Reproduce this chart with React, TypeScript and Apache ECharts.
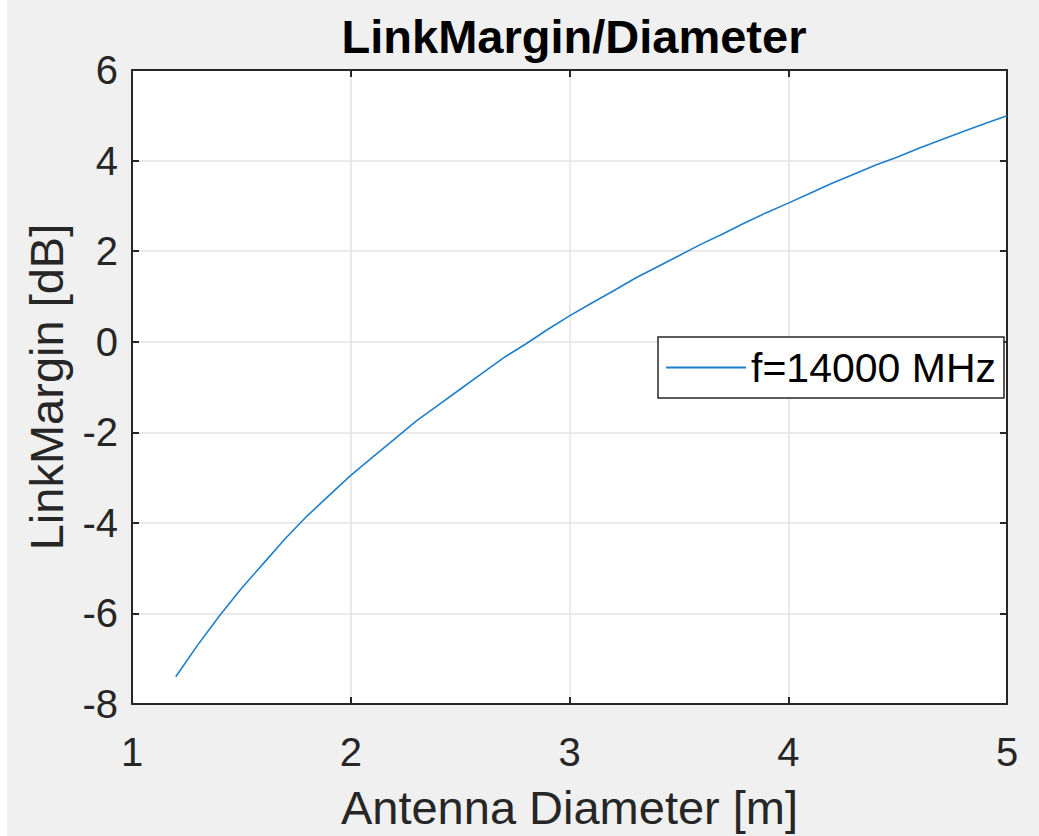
import React, { useEffect, useRef } from "react";
import * as echarts from "echarts";

const diameters = [
  1.2, 1.3, 1.4, 1.5, 1.6, 1.7, 1.8, 1.9, 2.0, 2.1, 2.2, 2.3, 2.4, 2.5, 2.6, 2.7, 2.8, 2.9, 3.0,
  3.1, 3.2, 3.3, 3.4, 3.5, 3.6, 3.7, 3.8, 3.9, 4.0, 4.1, 4.2, 4.3, 4.4, 4.5, 4.6, 4.7, 4.8, 4.9, 5.0,
];
const linkMargin = [
  -7.4, -6.7, -6.05, -5.45, -4.9, -4.35, -3.85, -3.4, -2.95, -2.55, -2.15, -1.75, -1.4, -1.05,
  -0.7, -0.35, -0.05, 0.27, 0.57, 0.85, 1.12, 1.4, 1.65, 1.9, 2.15, 2.38, 2.62, 2.85, 3.06, 3.28,
  3.5, 3.7, 3.9, 4.08, 4.28, 4.46, 4.64, 4.82, 4.99,
];
const seriesName = "f=14000 MHz";
const titleText = "LinkMargin/Diameter";
const xName = "Antenna Diameter [m]";
const yName = "LinkMargin [dB]";

const FONT = "'Liberation Sans', Arial, Helvetica, sans-serif";
const AX = "#262626";
const LINE = "#1f7fcb";

export default function App() {
  const ref = useRef<HTMLDivElement>(null);
  useEffect(() => {
    if (!ref.current) return;
    const chart = echarts.init(ref.current, undefined, { renderer: "svg" });
    const data = diameters.map((d, i) => [d, linkMargin[i]]);
    const axisLine = { show: true, onZero: false, lineStyle: { color: AX, width: 2 } };
    const axisTick = { show: true, inside: true, length: 7, lineStyle: { color: AX, width: 2 } };
    chart.setOption({
      animation: false,
      backgroundColor: "transparent",
      title: {
        text: titleText,
        left: 569,
        textAlign: "center",
        top: 8,
        textStyle: { fontFamily: FONT, fontSize: 47, fontWeight: "bold", color: "#000" },
      },
      legend: {
        data: [{ name: seriesName, icon: "rect" }],
        left: 658,
        top: 337,
        orient: "vertical",
        backgroundColor: "#fff",
        borderColor: AX,
        borderWidth: 1.5,
        borderRadius: 0,
        padding: [10, 8, 10, 8],
        itemWidth: 80,
        itemHeight: 2,
        itemStyle: { color: LINE, borderWidth: 0 },
        textStyle: { fontFamily: FONT, fontSize: 41, color: "#000" },
      },
      grid: {
        left: 132,
        right: 32,
        top: 70,
        bottom: 126,
        show: true,
        backgroundColor: "#fff",
        borderWidth: 0,
      },
      xAxis: [
        {
          type: "value",
          min: 1,
          max: 5,
          interval: 1,
          position: "bottom",
          name: xName,
          nameLocation: "middle",
          nameGap: 80,
          nameTextStyle: { fontFamily: FONT, fontSize: 47, color: AX },
          axisLine,
          axisTick,
          axisLabel: { margin: 28, fontFamily: FONT, fontSize: 40, color: AX },
          splitLine: { show: true, lineStyle: { color: "#e3e3e3", width: 1.5 } },
        },
        {
          type: "value",
          min: 1,
          max: 5,
          interval: 1,
          position: "top",
          axisLine,
          axisTick,
          axisLabel: { show: false },
          splitLine: { show: false },
        },
      ],
      yAxis: [
        {
          type: "value",
          min: -8,
          max: 6,
          interval: 2,
          position: "left",
          name: yName,
          nameLocation: "middle",
          nameGap: 62,
          nameTextStyle: { fontFamily: FONT, fontSize: 47, color: AX },
          axisLine,
          axisTick,
          axisLabel: { margin: 14, fontFamily: FONT, fontSize: 40, color: AX },
          splitLine: { show: true, lineStyle: { color: "#e3e3e3", width: 1.5 } },
        },
        {
          type: "value",
          min: -8,
          max: 6,
          interval: 2,
          position: "right",
          axisLine,
          axisTick,
          axisLabel: { show: false },
          splitLine: { show: false },
        },
      ],
      series: [
        {
          name: seriesName,
          type: "line",
          data,
          showSymbol: false,
          symbol: "none",
          smooth: false,
          lineStyle: { color: LINE, width: 1.6 },
          itemStyle: { color: LINE },
        },
      ],
    });
    return () => chart.dispose();
  }, []);
  return (
    <div
      style={{
        position: "fixed",
        left: 0,
        top: 0,
        width: 1039,
        height: 836,
        background: "linear-gradient(to right, #ffffff 7px, #f0f0f0 7px)",
      }}
    >
      <div ref={ref} style={{ width: 1039, height: 836 }} />
    </div>
  );
}
